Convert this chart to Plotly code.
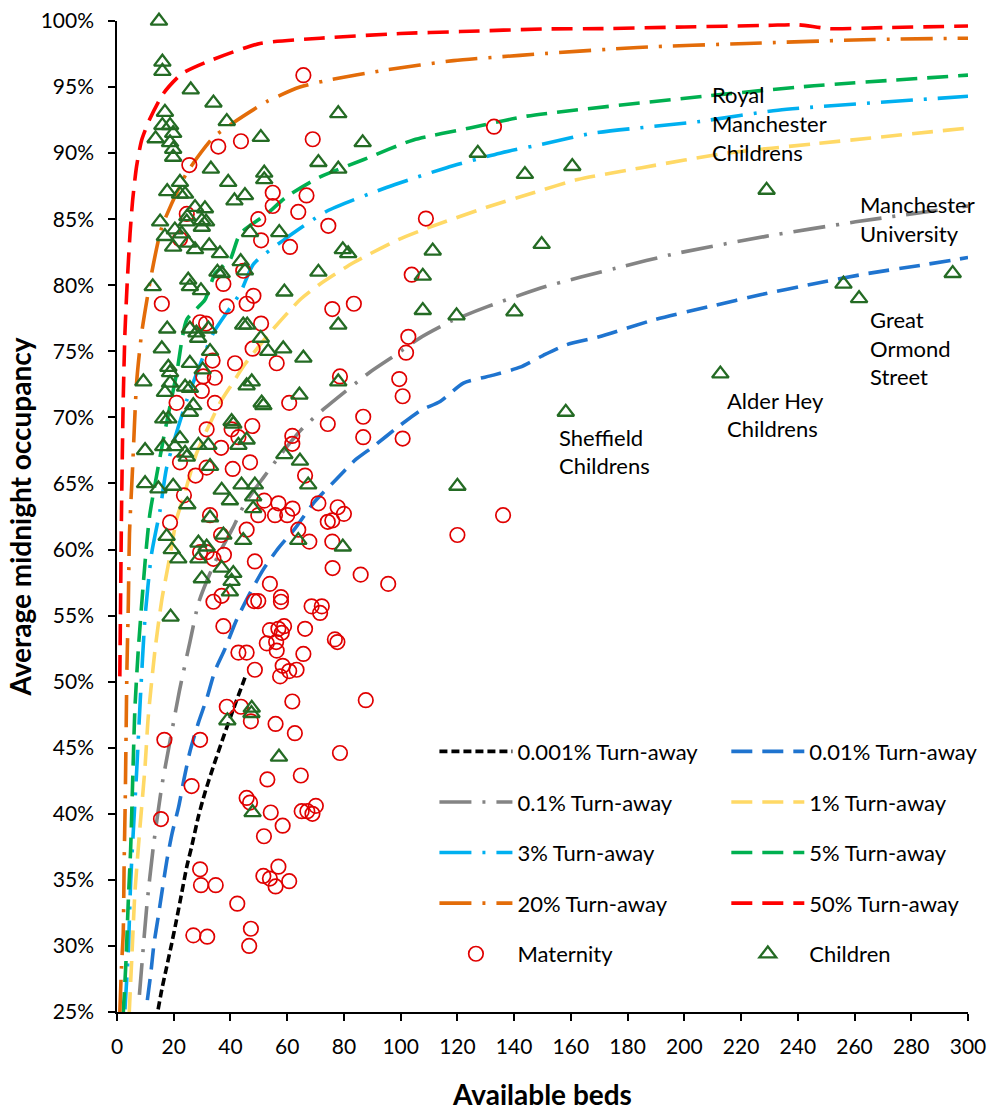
import plotly.graph_objects as go

# ---- Turn-away curves (available beds vs. average midnight occupancy, %) ----
ta_0001_x = [14.5, 15.8, 17.5, 19.3, 21.0, 22.8, 24.6, 26.3, 28.7, 31.0, 34.0, 37.5, 41.0, 45.1]
ta_0001_y = [25.2, 26.7, 28.4, 30.2, 32.0, 34.0, 36.0, 37.5, 39.8, 41.6, 43.6, 45.8, 47.9, 50.3]

ta_001_x = [10.7, 11.9, 13.0, 14.6, 16.0, 17.6, 19.4, 21.7, 23.6, 25.7, 28.7, 31.6, 34.5, 38.1,
            42.2, 46.9, 51.6, 56.9, 62.8, 69.2, 76.3, 84.1, 90.4, 99.2, 106.8, 113.9, 122.1,
            132.7, 142.1, 150.3, 158.5, 170.0, 189.5, 209.1, 227.2, 245.3, 264.9, 283.0, 300.0]
ta_001_y = [25.9, 27.9, 30.1, 32.3, 34.3, 36.5, 38.5, 40.5, 42.6, 44.7, 46.9, 48.7, 50.8, 52.5,
            54.7, 56.7, 58.5, 60.1, 61.6, 63.5, 65.1, 66.8, 67.8, 69.3, 70.5, 71.2, 72.6,
            73.2, 73.8, 74.7, 75.5, 76.1, 77.4, 78.4, 79.3, 80.1, 80.9, 81.5, 82.1]

ta_01_x = [7.9, 8.7, 10.5, 12.8, 15.8, 19.3, 22.0, 25.7, 28.8, 32.8, 36.0, 41.0, 45.1, 51.8,
           58.1, 65.1, 72.7, 89.0, 98.0, 106.7, 118.0, 130.8, 151.1, 176.0, 197.0, 228.7,
           260.4, 300.0]
ta_01_y = [26.3, 28.4, 33.0, 37.5, 42.1, 46.2, 49.3, 53.0, 56.0, 58.2, 59.7, 61.7, 63.5, 65.5,
           67.3, 69.1, 70.6, 73.4, 74.7, 76.0, 77.3, 78.4, 79.9, 81.3, 82.4, 83.7,
           84.8, 86.0]

ta_1_x = [4.3, 5.2, 6.3, 8.1, 9.9, 11.0, 13.4, 15.8, 18.4, 21.0, 23.5, 27.9, 31.6, 36.3, 40.8,
          45.0, 53.9, 64.5, 71.6, 83.3, 98.6, 110.3, 130.3, 146.8, 162.4, 185.0, 215.0, 245.7, 300.0]
ta_1_y = [24.9, 29.0, 34.0, 39.0, 43.6, 47.3, 52.4, 56.2, 59.2, 62.3, 64.0, 67.2, 69.0, 71.1, 72.6,
          74.0, 76.4, 78.9, 80.1, 81.7, 83.4, 84.4, 85.9, 87.0, 88.0, 88.9, 90.0, 90.7, 91.9]

ta_3_x = [2.8, 4.0, 4.8, 5.7, 6.9, 8.2, 9.9, 12.2, 15.2, 17.5, 24.6, 34.0, 43.4, 48.1, 58.6,
          73.9, 95.0, 116.2, 135.0, 152.6, 167.5, 205.5, 233.0, 300.0]
ta_3_y = [25.2, 29.7, 34.8, 38.5, 43.1, 48.6, 54.9, 59.7, 63.0, 66.2, 71.3, 76.4, 79.4, 81.6, 83.4,
          85.6, 87.4, 88.9, 90.0, 90.8, 91.5, 92.4, 93.25, 94.3]

ta_5_x = [2.2, 3.2, 4.0, 4.8, 5.5, 6.3, 7.5, 9.3, 10.5, 11.6, 16.3, 21.0, 24.6, 31.0, 34.6, 39.8,
          43.4, 52.8, 59.8, 71.6, 86.8, 104.5, 124.4, 144.5, 206.6, 245.7, 300.0]
ta_5_y = [24.9, 29.0, 33.5, 37.3, 42.3, 47.9, 52.4, 57.5, 60.5, 62.7, 68.3, 73.3, 77.4, 78.9, 80.9, 81.9,
          83.9, 85.4, 86.7, 88.2, 89.5, 91.0, 91.9, 92.8, 94.3, 95.1, 95.9]

ta_20_x = [1.0, 1.6, 2.2, 2.5, 2.9, 3.2, 3.5, 4.0, 4.4, 5.5, 6.9, 8.7, 12.2, 15.8, 24.6, 34.0,
           41.0, 52.8, 64.5, 73.9, 95.0, 118.6, 142.0, 183.6, 222.0, 266.7, 300.0]
ta_20_y = [25.0, 28.5, 31.0, 36.0, 41.0, 46.0, 51.0, 56.0, 61.2, 66.2, 72.6, 76.4, 80.9, 84.4, 88.5, 91.2,
           92.3, 93.9, 95.0, 95.5, 96.3, 97.0, 97.4, 98.0, 98.3, 98.6, 98.7]

ta_50_x = [1.0, 1.6, 2.2, 2.8, 3.6, 4.6, 5.5, 6.9, 8.7, 11.6, 16.3, 22.8, 32.8, 50.4, 71.6,
           99.8, 121.0, 151.5, 170.8, 200.0, 229.7, 239.9, 251.3, 270.0, 300.0]
ta_50_y = [50.4, 63.0, 71.4, 76.4, 80.2, 83.9, 86.4, 89.0, 91.0, 92.6, 94.5, 96.0, 97.0, 98.3, 98.7,
           99.05, 99.2, 99.4, 99.42, 99.55, 99.67, 99.72, 99.42, 99.5, 99.62]

# ---- Observed units: (available beds, average midnight occupancy %) ----
maternity_beds = [
    65.7, 35.7, 43.7, 69.0, 25.5, 54.9, 54.9, 66.8, 24.6, 49.8, 63.9, 22.2, 50.8, 61.0, 74.5,
    37.5, 44.5, 15.8, 38.7, 45.7, 48.1, 75.9, 29.3, 31.4, 50.8, 47.8,
    132.9, 108.9, 103.9, 83.5, 102.7,
    101.9, 33.7, 41.6, 56.3, 78.6, 99.5, 34.5, 30.4, 29.9, 100.7, 34.5, 21.0, 60.7, 86.8, 86.8,
    100.7, 74.3, 31.6, 40.4, 47.7, 61.8, 61.8, 42.8, 36.7, 22.2, 31.6, 40.8, 46.9, 27.7, 66.3,
    23.6, 51.9, 56.9, 61.9, 71.0, 77.8, 80.0, 49.8, 55.7, 60.0, 74.3, 75.9, 18.7, 32.8, 45.7,
    63.9, 67.8, 75.9, 36.7, 29.3, 31.6, 34.0, 37.7, 48.6, 76.0, 85.9, 95.6, 53.9, 34.0, 36.9,
    48.3, 49.8, 57.8, 57.8, 68.6, 72.2, 71.6, 37.5, 53.9, 56.9, 58.9, 58.1, 66.3, 52.8, 56.1,
    76.8, 77.7, 42.8, 45.7, 56.3, 65.7, 48.6, 58.4, 60.7, 63.3, 57.5,
    38.7, 43.7, 47.2, 61.8, 87.7, 55.9, 62.7, 16.7, 29.3, 78.6, 26.3, 53.0, 64.8, 45.7, 46.9,
    54.2, 65.1, 67.1, 68.9, 70.1, 15.5, 58.4, 51.8, 56.9, 29.3, 51.6, 53.9, 55.9, 60.7, 29.6,
    34.8, 42.4, 47.2, 46.6, 26.9, 31.8,
    136.1, 120.0,
]
maternity_occ = [
    95.9, 90.5, 90.9, 91.05, 89.1, 87.0, 86.0, 86.8, 85.4, 85.0, 85.55, 83.5, 83.4, 82.9, 84.5,
    80.1, 81.1, 78.6, 78.4, 78.6, 79.2, 78.2, 77.2, 77.1, 77.1, 75.2,
    92.0, 85.05, 80.8, 78.6, 76.1,
    74.9, 74.3, 74.1, 74.1, 73.1, 72.9, 73.0, 73.1, 72.0, 71.6, 71.1, 71.1, 71.1, 70.05, 68.5,
    68.4, 69.5, 69.1, 69.1, 69.35, 68.6, 68.0, 68.5, 67.7, 66.6, 66.2, 66.1, 66.6, 65.6, 65.6,
    64.1, 63.7, 63.5, 63.1, 63.5, 63.2, 62.7, 62.6, 62.6, 62.6, 62.1, 62.2, 62.05, 62.6, 61.5,
    61.5, 60.6, 60.6, 61.1, 59.8, 59.8, 59.3, 59.6, 59.1, 58.6, 58.1, 57.4, 57.4, 56.05, 56.5,
    56.1, 56.1, 56.4, 56.05, 55.7, 55.7, 55.2, 54.2, 53.9, 54.0, 54.2, 53.7, 54.0, 52.9, 53.0,
    53.2, 53.0, 52.2, 52.2, 52.35, 52.1, 50.9, 51.2, 50.8, 50.9, 50.4,
    48.1, 48.1, 47.0, 48.5, 48.6, 46.8, 46.1, 45.6, 45.6, 44.6, 42.1, 42.6, 42.9, 41.2, 40.85,
    40.1, 40.2, 40.2, 40.0, 40.6, 39.6, 39.1, 38.3, 36.0, 35.8, 35.3, 35.1, 34.5, 34.9, 34.6,
    34.6, 33.2, 31.3, 30.0, 30.8, 30.7,
    62.6, 61.1,
]

children_beds = [
    14.8, 16.0, 16.0, 26.0, 34.0, 16.9, 16.0, 18.7, 19.8, 13.6, 18.7, 19.8, 19.8, 38.7, 50.7,
    71.0, 33.1, 22.2, 39.2, 51.9, 51.9, 17.7, 22.2, 24.0, 45.1, 41.4, 27.5, 31.0, 15.2, 24.8,
    24.6, 29.9, 31.4, 29.9, 20.4, 16.9, 22.8, 19.8, 25.1, 27.5, 32.5, 36.3, 46.9, 57.2, 43.6,
    45.1, 35.4, 36.9, 12.6, 25.1, 25.7, 29.6, 59.0, 71.0, 17.7, 25.7, 28.0, 32.2, 28.6, 44.5,
    45.9, 50.7, 15.8, 58.6,
    78.0, 86.6, 78.0, 127.2, 143.8, 79.6, 81.5, 111.3, 149.7, 107.8, 107.8, 119.7, 140.1, 78.0,
    53.3, 65.7, 32.8, 18.1, 18.7, 25.7, 30.2, 9.3, 18.7, 24.0, 25.7, 16.9, 45.7, 47.5, 64.3,
    78.0, 26.9, 25.7, 51.0, 51.6, 16.3, 18.1, 40.4, 41.0, 22.2, 9.9, 16.3, 20.4, 24.0, 24.6,
    28.7, 32.2, 42.8, 45.7, 59.0, 64.5, 32.8, 9.9, 14.6, 19.8, 36.9, 39.8, 43.9, 48.6, 48.0,
    67.4, 24.8, 48.0, 32.8, 17.5, 19.3, 21.6, 28.7, 31.6, 28.7, 37.5, 44.5, 63.9, 79.6, 36.9,
    41.0, 29.9, 40.4, 39.8, 18.9,
    47.5, 47.4, 38.9, 57.1, 47.8,
    160.5, 229.0, 158.2, 212.7, 256.1, 261.6, 294.6, 120.0,
]
children_occ = [
    100.0, 96.9, 96.2, 94.8, 93.8, 93.1, 92.1, 92.1, 91.5, 91.1, 90.8, 90.3, 89.7, 92.4, 91.2,
    89.3, 88.8, 87.8, 87.8, 88.5, 88.0, 87.1, 86.9, 86.9, 86.8, 86.4, 85.9, 85.8, 84.8, 85.2,
    84.8, 84.9, 84.8, 84.4, 84.2, 83.7, 83.9, 82.9, 83.2, 82.7, 83.0, 82.4, 84.0, 84.0, 81.8,
    81.1, 81.0, 80.9, 79.9, 80.4, 79.9, 79.6, 79.5, 81.0, 76.7, 76.7, 76.4, 76.7, 76.0, 77.0,
    77.0, 76.0, 75.2, 75.2,
    93.0, 90.8, 88.8, 90.0, 88.4, 82.7, 82.4, 82.6, 83.1, 80.7, 78.1, 77.7, 78.0, 77.0,
    75.0, 74.5, 75.0, 73.8, 73.4, 74.1, 73.6, 72.7, 72.6, 72.3, 72.2, 71.9, 72.4, 72.7, 71.7,
    72.7, 70.9, 70.4, 71.1, 70.9, 69.9, 69.9, 69.7, 69.5, 68.4, 67.5, 67.8, 67.8, 67.3, 67.0,
    67.9, 67.9, 67.9, 68.3, 67.2, 66.7, 66.3, 65.0, 64.6, 64.8, 64.5, 63.7, 64.9, 64.9, 64.0,
    64.9, 63.4, 63.1, 62.4, 61.0, 60.0, 59.3, 60.5, 60.2, 59.3, 61.1, 60.7, 60.7, 60.2, 58.6,
    58.2, 57.8, 57.6, 56.8, 54.9,
    48.0, 47.6, 47.05, 44.3, 40.1,
    89.0, 87.2, 70.4, 73.3, 80.1, 79.0, 80.9, 64.8,
]

# ---- Hospital labels: text lines and position of the first line ----
hospital_labels = [
    (["Royal", "Manchester", "Childrens"], 209.0, 94.4),
    (["Manchester", "University"], 261.2, 86.1),
    (["Great", "Ormond", "Street"], 264.7, 77.4),
    (["Alder Hey", "Childrens"], 214.2, 71.3),
    (["Sheffield", "Childrens"], 155.1, 68.5),
]

FONT = "Lato, 'Open Sans', sans-serif"
LDASH = "32px,11px,3px,11px"   # long dash - dot
MDASH = "21px,10px"            # medium dash
SDASH = "8px,4px"              # short dash

curves = [
    # name, x, y, colour, dash, legend
    ("0.001% Turn-away", ta_0001_x, ta_0001_y, "#000000", SDASH, "legend"),
    ("0.01% Turn-away", ta_001_x, ta_001_y, "#1F74CF", MDASH, "legend2"),
    ("0.1% Turn-away", ta_01_x, ta_01_y, "#848484", LDASH, "legend"),
    ("1% Turn-away", ta_1_x, ta_1_y, "#FFD966", MDASH, "legend2"),
    ("3% Turn-away", ta_3_x, ta_3_y, "#00B0F0", LDASH, "legend"),
    ("5% Turn-away", ta_5_x, ta_5_y, "#00B050", MDASH, "legend2"),
    ("20% Turn-away", ta_20_x, ta_20_y, "#E36C09", LDASH, "legend"),
    ("50% Turn-away", ta_50_x, ta_50_y, "#FF0000", MDASH, "legend2"),
]

fig = go.Figure()

for i, (name, xs, ys, col, dash, leg) in enumerate(curves):
    fig.add_trace(go.Scatter(
        x=xs, y=ys, mode="lines", name=name,
        line=dict(color=col, width=3.6, dash=dash, shape="spline", smoothing=0.6),
        legend=leg, legendgroup=f"g{i}",
    ))

fig.add_trace(go.Scatter(
    x=maternity_beds, y=maternity_occ, mode="markers", name="Maternity",
    marker=dict(symbol="circle-open", size=14.5, color="#E00000", line=dict(width=1.7, color="#E00000")),
    cliponaxis=False, legend="legend", legendgroup="mat",
))
fig.add_trace(go.Scatter(
    x=children_beds, y=children_occ, mode="markers", name="Children",
    marker=dict(symbol="triangle-up-open", size=14.5, color="#246B24", line=dict(width=2.3, color="#246B24")),
    cliponaxis=False, legend="legend2", legendgroup="chi",
))

# Hospital name labels, one annotation per text line
LINE_STEP = 2.16  # vertical spacing between label lines, in % units
for lines, x0, y0 in hospital_labels:
    for k, txt in enumerate(lines):
        fig.add_annotation(
            x=x0, y=y0 - k * LINE_STEP, xref="x", yref="y", text=txt, showarrow=False,
            xanchor="left", yanchor="middle", font=dict(family=FONT, size=22, color="#000000"),
        )

legend_common = dict(
    orientation="v", font=dict(family=FONT, size=22, color="#000000"),
    bgcolor="rgba(0,0,0,0)", borderwidth=0, itemwidth=73, tracegroupgap=19,
    xanchor="left", yanchor="top", itemclick=False, itemdoubleclick=False,
)

fig.update_layout(
    width=998, height=1111,
    margin=dict(l=117, r=30, t=21, b=99, autoexpand=False),
    paper_bgcolor="white", plot_bgcolor="white",
    font=dict(family=FONT, size=21, color="#000000"),
    showlegend=True,
    legend=dict(x=0.373, y=0.284, **legend_common),
    legend2=dict(x=0.716, y=0.284, **legend_common),
    xaxis=dict(
        range=[0, 300], dtick=20, tick0=0, showgrid=False, zeroline=False,
        showline=True, linecolor="#000000", linewidth=1.5,
        ticks="outside", ticklen=7, tickwidth=1.5, tickcolor="#000000",
        tickfont=dict(family=FONT, size=21), ticklabelstandoff=8,
        title=dict(text="<b>Available beds</b>", font=dict(family=FONT, size=28), standoff=30),
    ),
    yaxis=dict(
        range=[25, 100], dtick=5, tick0=25, showgrid=False, zeroline=False,
        showline=True, linecolor="#000000", linewidth=1.5,
        ticks="outside", ticklen=7, tickwidth=1.5, tickcolor="#000000",
        ticksuffix="%", tickfont=dict(family=FONT, size=21), ticklabelstandoff=10,
        title=dict(text="<b>Average midnight occupancy</b>", font=dict(family=FONT, size=28), standoff=1),
    ),
)

fig.write_html("out.html")
